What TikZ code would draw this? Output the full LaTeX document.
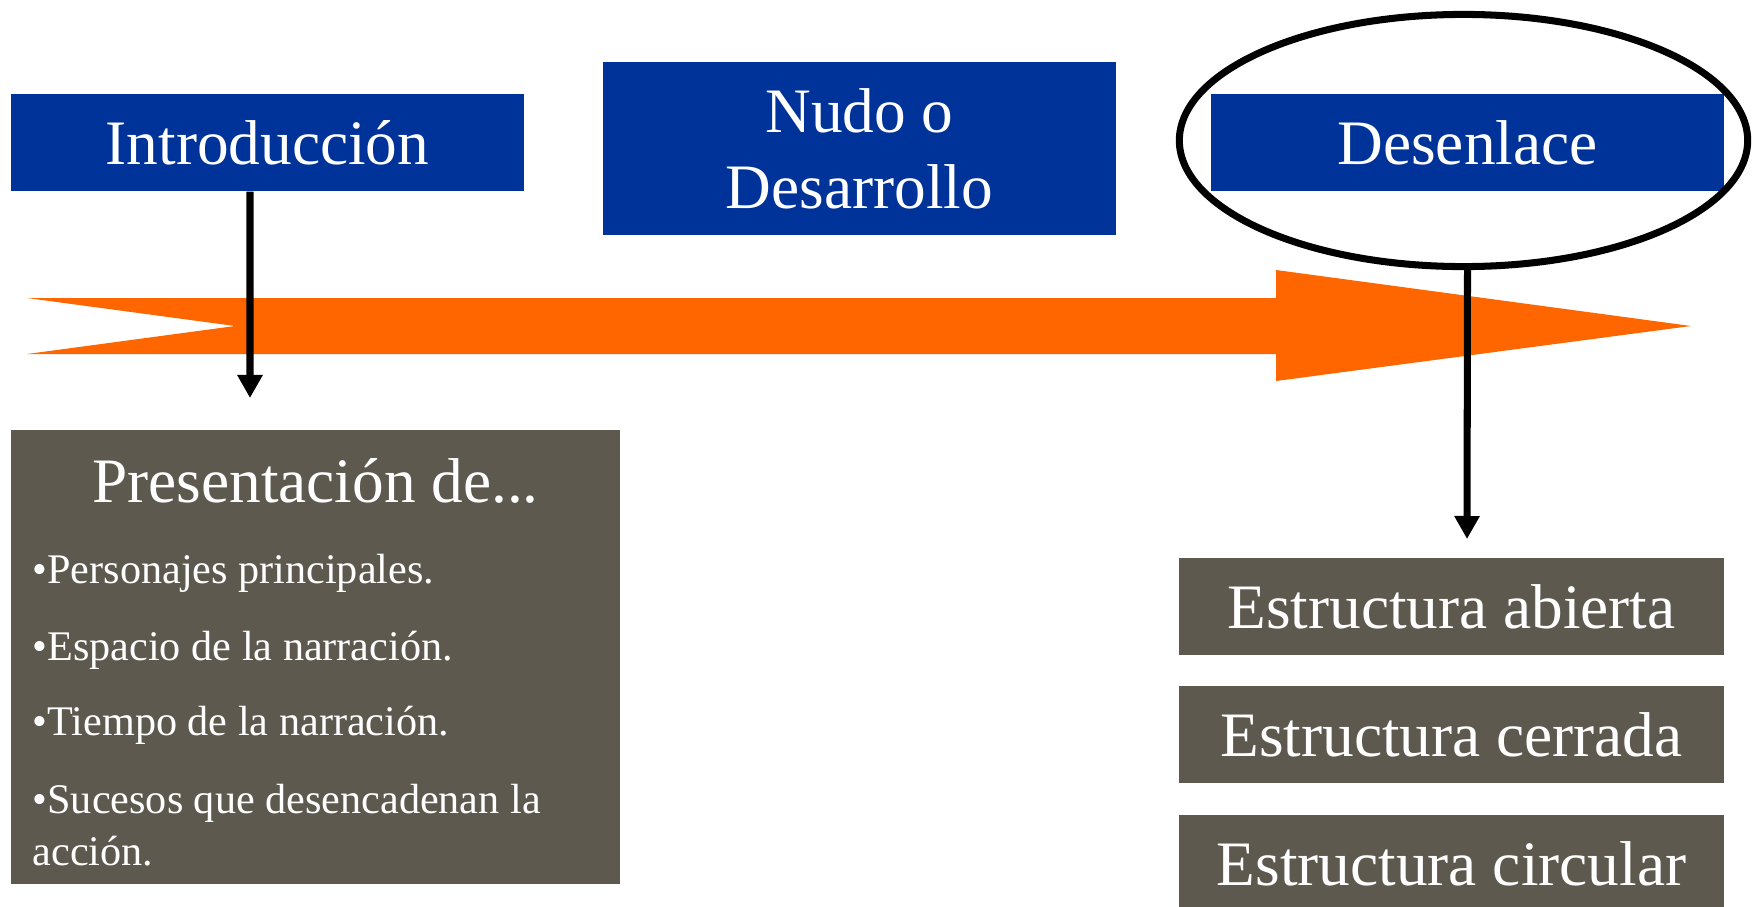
\documentclass[tikz,border=0pt]{standalone}
\usepackage{fontspec}
\setmainfont{Liberation Serif}
\usetikzlibrary{arrows.meta,shapes.geometric}
\definecolor{azul}{HTML}{003399}
\definecolor{naranja}{HTML}{FF6600}
\definecolor{pardo}{HTML}{5E594F}
\tikzset{
	etapa/.style={fill=azul, text=white, rectangle, minimum width=5.13cm, minimum height=0.97cm, align=center, font=\fontsize{18}{21.6}\selectfont},
	caja/.style={fill=pardo, text=white, rectangle, minimum width=5.45cm, minimum height=0.97cm, font=\fontsize{18}{21.6}\selectfont},
	punto/.style={text=white, anchor=base west, inner sep=0pt, font=\fontsize{12}{14.4}\selectfont},
}
\begin{document}
\begin{tikzpicture}[x=0.01cm, y=-0.01cm, >={Triangle[width=0.24cm,length=0.23cm]}]
	\useasboundingbox (0,0) rectangle (1752,906);
	\clip (0,0) rectangle (1752,906);
	% flecha del tiempo
	\fill[naranja] (27,298) -- (1276,298) -- (1276,270) -- (1691,326) --
		(1276,381) -- (1276,354) -- (27,354) -- (235,326) -- cycle;
	\node[etapa] (intro) at (267.5,142.5) {Introducción};
	\node[etapa, minimum height=1.73cm] (nudo) at (859.5,148.5) {Nudo o\\Desarrollo};
	\node[etapa] (desen) at (1467.5,142.5) {Desenlace};
	\node[draw, ellipse, line width=2pt, minimum width=5.68cm, minimum height=2.52cm]
		(anillo) at (1463.5,140.5) {};
	% presentacion
	\node[fill=pardo, rectangle, minimum width=6.09cm, minimum height=4.54cm]
		(pres) at (315.5,657) {};
	\node[text=white, anchor=base, inner sep=0pt, font=\fontsize{18}{21.6}\selectfont]
		(titulo) at (315.5,502) {Presentación de...};
	\node[punto] (p1) at (32,583) {•Personajes principales.};
	\node[punto] (p2) at (32,660) {•Espacio de la narración.};
	\node[punto] (p3) at (32,735) {•Tiempo de la narración.};
	\node[punto] (p4) at (32,813) {•Sucesos que desencadenan la};
	\node[punto] (p5) at (32,865) {acción.};
	% tipos de desenlace
	\node[caja] (abierta) at (1451.5,606.5) {Estructura abierta};
	\node[caja] (cerrada) at (1451.5,734.5) {Estructura cerrada};
	\node[caja] (circular) at (1451.5,863.5) {Estructura circular};
	\coordinate (introFin) at (250,398);
	\coordinate (desenFin) at (1467,539);
	\draw[->, line width=2pt] ([xshift=-0.175cm]intro.south) -- (introFin);
	\draw[->, line width=2pt] (anillo.south -| desen) -- (desenFin);
\end{tikzpicture}
\end{document}
